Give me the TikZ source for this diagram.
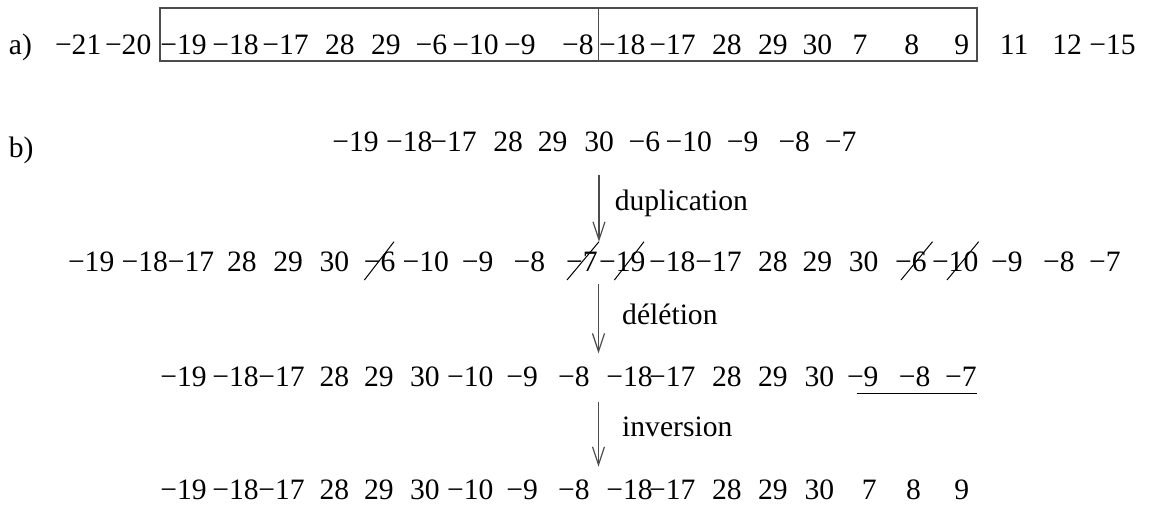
\documentclass[tikz,border=0pt]{standalone}
\usepackage{fontspec}
\setmainfont{Liberation Serif}
\usetikzlibrary{arrows.meta}

\begin{document}
\begin{tikzpicture}[
  x=0.5pt, y=-0.5pt,
  every node/.style={font=\fontsize{14.8}{17}\selectfont, inner sep=0pt},
  num/.style={anchor=base east},
  tag/.style={anchor=base west},
  frame/.style={draw=black!70, line width=0.8pt},
  flow/.style={-{Straight Barb[length=9pt, width=6pt]}, line width=0.6pt, black!70},
  strike/.style={line width=0.5pt}
]
\useasboundingbox (0,0) rectangle (1149,506);

% a) the gene order with the two boxed blocks
\node[tag] (la) at (8.5,55) {a)};
\foreach \x/\t [count=\i] in {101.7/−21, 151.7/−20, 207/−19, 259/−18, 309/−17,
    355/28, 401/29, 447.6/−6, 499/−10, 536/−9, 594/−8, 645.8/−18, 696/−17,
    742/28, 788/29, 832.6/30, 867.8/7, 919.6/8, 969.5/9, 1028.7/11, 1082.3/12, 1136/−15}
  \node[num] (a\i) at (\x,55) {\t};
\draw[frame] (160,8.3) rectangle (977,61);
\draw[frame] (598.5,8.3) -- (598.5,61);

% b) duplication, deletion, inversion
\node[tag] (lb) at (8.5,157.5) {b)};
\foreach \x/\t [count=\i] in {379/−19, 432.8/−18, 477/−17, 523.4/28, 567.8/29,
    614.4/30, 660.6/−6, 712.4/−10, 758.7/−9, 810.4/−8, 856.7/−7}
  \node[num] (p\i) at (\x,151.7) {\t};

\foreach \x/\t [count=\i] in {114.7/−19, 168.3/−18, 214.5/−17, 257/28, 303.3/29,
    349.6/30, 395.8/−6, 449.4/−10, 493.8/−9, 545.6/−8, 598/−7, 645.8/−19,
    695.8/−18, 742/−17, 788/28, 832.6/29, 878.9/30, 927/−6, 978.7/−10,
    1023/−9, 1075/−8, 1121/−7}
  \node[num] (q\i) at (\x,272) {\t};
\foreach \u/\v in {364.4/394, 567/599, 614.4/644, 901/932.5, 947/978.7}
  \draw[strike] (\u,280) -- (\v,241.7);

\foreach \x/\t [count=\i] in {207/−19, 259/−18, 305/−17, 349.6/28, 394/29,
    440/30, 493.8/−10, 538.2/−9, 590/−8, 653/−18, 695.8/−17, 742/28,
    788/29, 834.5/30, 878.9/−9, 930.7/−8, 977/−7}
  \node[num] (r\i) at (\x,386.7) {\t};
\draw[line width=0.6pt] (856.7,393.3) -- (977,393.3);

\foreach \x/\t [count=\i] in {207/−19, 259/−18, 305/−17, 349.6/28, 394/29,
    440/30, 493.8/−10, 538.2/−9, 590/−8, 653/−18, 695.8/−17, 742/28,
    788/29, 834.5/30, 877/7, 921.4/8, 969.5/9}
  \node[num] (s\i) at (\x,500) {\t};

\coordinate (dup1) at (599,175);
\coordinate (dup2) at (599,241.7);
\coordinate (del1) at (598.5,284);
\coordinate (del2) at (598.5,353.3);
\coordinate (inv1) at (598.5,401.7);
\coordinate (inv2) at (598.5,466.7);
\draw[flow] (dup1) -- (dup2);
\draw[flow] (del1) -- (del2);
\draw[flow] (inv1) -- (inv2);
\node[tag] (dup) at (614.4,211) {duplication};
\node[tag] (del) at (621.8,325) {délétion};
\node[tag] (inv) at (621.8,437) {inversion};
\end{tikzpicture}
\end{document}
